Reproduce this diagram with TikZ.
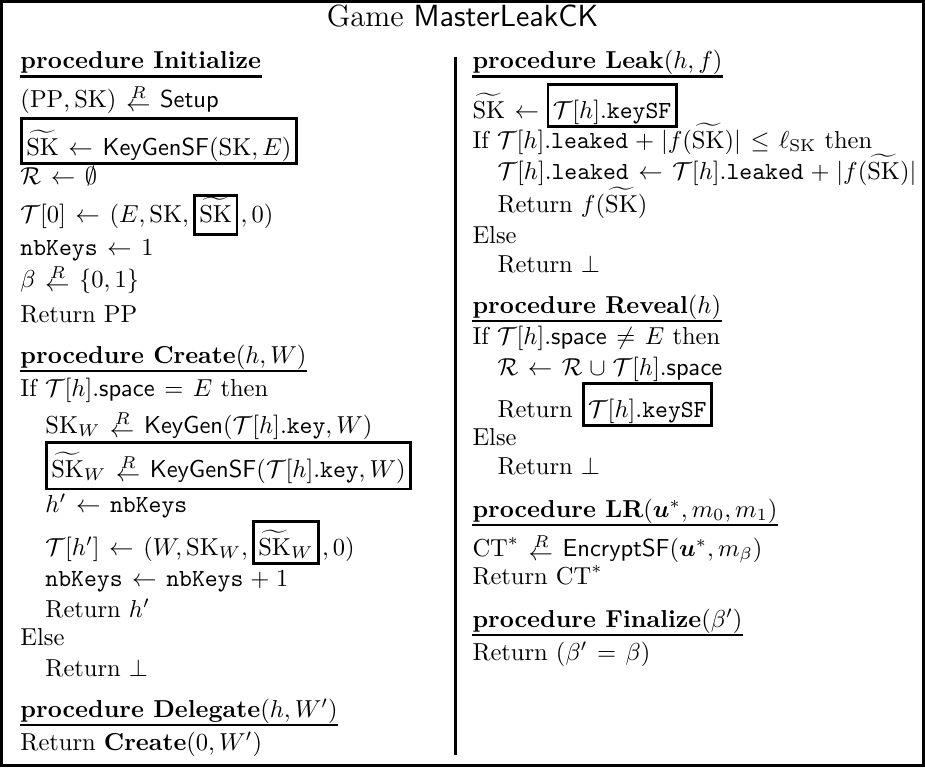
\documentclass[tikz,border=0pt]{standalone}
\usepackage{amsmath,amssymb}
\usepackage{bm}
\usepackage{tikz}
\usetikzlibrary{positioning}

\newcommand{\SKt}{\widetilde{\mathrm{SK}}}
\newcommand{\Tc}{\mathcal{T}}
\newcommand{\rgets}{\mathrel{\raisebox{-2pt}{$\stackrel{R}{\leftarrow}$}}}
\thickmuskip=7mu plus 3mu
\medmuskip=5mu plus 2mu minus 2mu

\begin{document}
\begin{tikzpicture}[x=0.408pt, y=-0.408pt, every node/.style={inner sep=0pt},
  ln/.style={anchor=base west},
  hd/.style={anchor=base west, font=\bfseries},
  kbox/.style={draw, line width=1.1pt, inner xsep=2pt, inner ysep=2.5pt, text height=11.3pt, text depth=0.9pt},
  uline/.style={line width=1.1pt},
  frame/.style={line width=1.2pt}]
  \useasboundingbox (0,0) rectangle (925,768);
  \draw[frame] (1.5,1.5) rectangle (923.5,765.5);
  \coordinate (divT) at (455.5,57);
  \coordinate (divB) at (455.5,755);
  \draw[line width=1.1pt] (divT) -- (divB);
  \node[anchor=base] (title) at (462.5,26) {\fontsize{12.5}{15}\selectfont Game \textsf{MasterLeakCK}};
  % left column
  \node[hd] (ini) at (20,68.5) {procedure Initialize};
  \node[ln] (i1) at (20,107) {$(\mathrm{PP},\mathrm{SK}) \rgets \mathsf{Setup}$};
  \node[kbox, text height=12.4pt, anchor=base west] (i2) at (20,155) {$\SKt \leftarrow \mathsf{KeyGenSF}(\mathrm{SK},E)$};
  \node[ln] (i3) at (20,184) {$\mathcal{R} \leftarrow \emptyset$};
  \node[ln] (i4a) at (20,222) {$\Tc[0] \leftarrow (E,\mathrm{SK},$};
  \node[kbox, text height=8.3pt, text depth=2.6pt, base right=1.5pt of i4a] (i4b) {$\SKt$};
  \node[base right=0.8pt of i4b] (i4c) {$,0)$};
  \node[ln] (i5) at (20,255) {$\mathtt{nbKeys} \leftarrow 1$};
  \node[ln] (i6) at (20,287) {$\beta \rgets \{0,1\}$};
  \node[ln] (i7) at (20,322) {Return PP};
  \node[hd] (cre) at (20,363) {procedure Create$(h,W)$};
  \node[ln] (c1) at (20,396) {If $\Tc[h].\mathsf{space} = E$ then};
  \node[ln] (c2) at (45,433) {$\mathrm{SK}_W \rgets \mathsf{KeyGen}(\Tc[h].\mathtt{key},W)$};
  \node[kbox, text height=11.5pt, text depth=2.4pt, anchor=base west] (c3) at (45,477) {$\SKt_W \rgets \mathsf{KeyGenSF}(\Tc[h].\mathtt{key},W)$};
  \node[ln] (c4) at (45,512) {$h' \leftarrow \mathtt{nbKeys}$};
  \node[ln] (c5a) at (45,555) {$\Tc[h'] \leftarrow (W,\mathrm{SK}_W,$};
  \node[kbox, base right=1.5pt of c5a] (c5b) {$\SKt_W$};
  \node[base right=0.8pt of c5b] (c5c) {$,0)$};
  \node[ln] (c6) at (45,586) {$\mathtt{nbKeys} \leftarrow \mathtt{nbKeys}+1$};
  \node[ln] (c7) at (45,617) {Return $h'$};
  \node[ln] (c8) at (20,645) {Else};
  \node[ln] (c9) at (45,676) {Return $\bot$};
  \node[hd] (del) at (20,717) {procedure Delegate$(h,W')$};
  \node[ln] (d1) at (20,750) {Return \textbf{Create}$(0,W')$};
  % right column
  \node[hd] (lea) at (472,68.5) {procedure Leak$(h,f)$};
  \node[ln] (l1a) at (472,118) {$\SKt \leftarrow$};
  \node[kbox, base right=2.8pt of l1a] (l1b) {$\Tc[h].\mathtt{keySF}$};
  \node[ln] (l2) at (472,148) {If $\Tc[h].\mathtt{leaked}+|f(\SKt)| \le \ell_{\mathrm{SK}}$ then};
  \node[ln] (l3) at (497,179) {$\Tc[h].\mathtt{leaked} \leftarrow \Tc[h].\mathtt{leaked}+|f(\SKt)|$};
  \node[ln] (l4) at (497,212) {Return $f(\SKt)$};
  \node[ln] (l5) at (472,243) {Else};
  \node[ln] (l6) at (497,272) {Return $\bot$};
  \node[hd] (rev) at (472,313) {procedure Reveal$(h)$};
  \node[ln] (r1) at (472,344) {If $\Tc[h].\mathsf{space} \neq E$ then};
  \node[ln] (r2) at (497,375) {$\mathcal{R} \leftarrow \mathcal{R} \cup \Tc[h].\mathsf{space}$};
  \node[ln] (r3a) at (497,417) {Return};
  \node[kbox, base right=3.5pt of r3a] (r3b) {$\Tc[h].\mathtt{keySF}$};
  \node[ln] (r4) at (472,445) {Else};
  \node[ln] (r5) at (497,474) {Return $\bot$};
  \node[hd] (lr) at (472,517) {procedure LR$(\bm{u}^*,m_0,m_1)$};
  \node[ln] (lr1) at (472,556) {$\mathrm{CT}^* \rgets \mathsf{EncryptSF}(\bm{u}^*,m_\beta)$};
  \node[ln] (lr2) at (472,584) {Return $\mathrm{CT}^*$};
  \node[hd] (fin) at (472,627) {procedure Finalize$(\beta')$};
  \node[ln] (f1) at (472,660) {Return $(\beta'=\beta)$};
  \foreach \h in {ini,cre,del,lea,rev,lr,fin}
    \draw[uline] ([yshift=-3.3pt]\h.base west) -- ([yshift=-3.3pt]\h.base east);
\end{tikzpicture}
\end{document}
